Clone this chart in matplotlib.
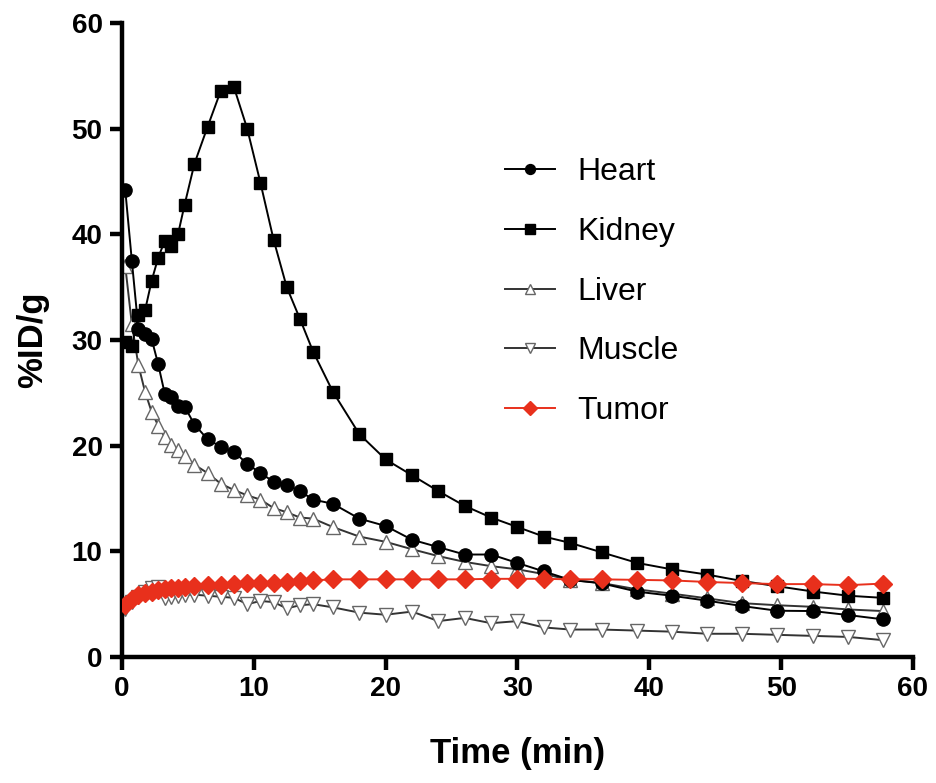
import matplotlib
matplotlib.use("Agg")
import matplotlib.pyplot as plt

plt.rcParams['font.family'] = ['Liberation Sans', 'DejaVu Sans']

times = [0.25, 0.75, 1.25, 1.75, 2.25, 2.75, 3.25, 3.75, 4.25, 4.75,
         5.5, 6.5, 7.5, 8.5, 9.5, 10.5, 11.5, 12.5, 13.5, 14.5,
         16, 18, 20, 22, 24, 26, 28, 30, 32, 34,
         36.4, 39.1, 41.7, 44.4, 47.0, 49.7, 52.4, 55.1, 57.7]

heart = [44.2, 37.5, 31.0, 30.6, 30.1, 27.7, 24.9, 24.6, 23.8, 23.7,
         22.0, 20.6, 19.9, 19.4, 18.3, 17.4, 16.6, 16.3, 15.7, 14.9,
         14.5, 13.1, 12.4, 11.1, 10.4, 9.7, 9.7, 8.9, 8.1, 7.3,
         6.97, 6.18, 5.8, 5.33, 4.83, 4.38, 4.35, 3.97, 3.57]

kidney = [29.8, 29.4, 32.4, 32.8, 35.6, 37.8, 39.4, 38.9, 40.0, 42.8,
          46.7, 50.2, 53.6, 53.9, 50.0, 44.9, 39.5, 35.0, 32.0, 28.9,
          25.1, 21.1, 18.7, 17.2, 15.7, 14.3, 13.2, 12.3, 11.4, 10.8,
          9.9, 8.9, 8.3, 7.8, 7.2, 6.7, 6.2, 5.8, 5.6]

liver = [37.0, 31.5, 27.6, 25.1, 23.2, 21.9, 20.8, 20.1, 19.6, 19.0,
         18.2, 17.4, 16.4, 15.8, 15.3, 14.9, 14.1, 13.7, 13.2, 13.1,
         12.3, 11.4, 10.9, 10.2, 9.55, 9.0, 8.6, 8.3, 7.85, 7.3,
         7.0, 6.4, 6.0, 5.55, 5.1, 4.9, 4.75, 4.5, 4.35]

muscle = [4.5, 5.2, 5.7, 6.2, 6.5, 6.6, 5.6, 5.7, 5.8, 5.9,
          5.9, 5.8, 5.7, 5.6, 5.0, 5.3, 5.2, 4.6, 4.9, 5.0,
          4.7, 4.2, 4.0, 4.3, 3.4, 3.7, 3.2, 3.4, 2.8, 2.6,
          2.6, 2.5, 2.4, 2.2, 2.2, 2.1, 2.0, 1.9, 1.6]

tumor = [4.9, 5.5, 5.9, 6.1, 6.2, 6.3, 6.4, 6.5, 6.55, 6.6,
         6.7, 6.8, 6.85, 6.9, 7.0, 7.0, 7.05, 7.1, 7.2, 7.25,
         7.35, 7.35, 7.35, 7.35, 7.35, 7.35, 7.4, 7.4, 7.4, 7.35,
         7.35, 7.3, 7.25, 7.1, 7.0, 6.9, 6.9, 6.8, 6.95]

labels = ["Heart", "Kidney", "Liver", "Muscle", "Tumor"]
xticks = [0, 10, 20, 30, 40, 50, 60]
yticks = [0, 10, 20, 30, 40, 50, 60]

fig = plt.figure(figsize=(9.36, 7.83), dpi=100)
ax = fig.add_axes([0.1303, 0.1609, 0.8451, 0.8097])

lw = 1.4
ms = 9.5
ax.plot(times, heart, color='black', lw=lw, marker='o', ms=ms, mfc='black', mec='black', label=labels[0], zorder=3)
ax.plot(times, kidney, color='black', lw=lw, marker='s', ms=ms-0.8, mfc='black', mec='black', label=labels[1], zorder=3)
ax.plot(times, liver, color='#333333', lw=lw, marker='^', ms=ms, mfc='white', mec='#666666', mew=1.0, label=labels[2], zorder=2)
ax.plot(times, muscle, color='#333333', lw=lw, marker='v', ms=ms, mfc='white', mec='#666666', mew=1.0, label=labels[3], zorder=2)
ax.plot(times, tumor, color='#E8301C', lw=lw, marker='D', ms=ms-0.5, mfc='#E8301C', mec='#E8301C', label=labels[4], zorder=4)

ax.set_xlim(0, 60)
ax.set_ylim(0, 60)
ax.set_xticks(xticks)
ax.set_yticks(yticks)
for s in ['top', 'right']:
    ax.spines[s].set_visible(False)
for s in ['left', 'bottom']:
    ax.spines[s].set_linewidth(3.2)
    ax.spines[s].set_capstyle('projecting')
ax.tick_params(axis='both', which='major', length=9, width=3.2, labelsize=20, pad=5)
for lab in ax.get_xticklabels() + ax.get_yticklabels():
    lab.set_fontweight('bold')

ax.set_xlabel("Time (min)", fontsize=25, fontweight='bold', labelpad=25)
ax.set_ylabel("%ID/g", fontsize=25, fontweight='bold', labelpad=16)

leg = ax.legend(loc='upper left', bbox_to_anchor=(0.448, 0.8336), frameon=False,
                fontsize=23, handlelength=1.56, handletextpad=0.7, labelspacing=0.93,
                markerscale=0.75)

fig.savefig("out.png", dpi=100)
